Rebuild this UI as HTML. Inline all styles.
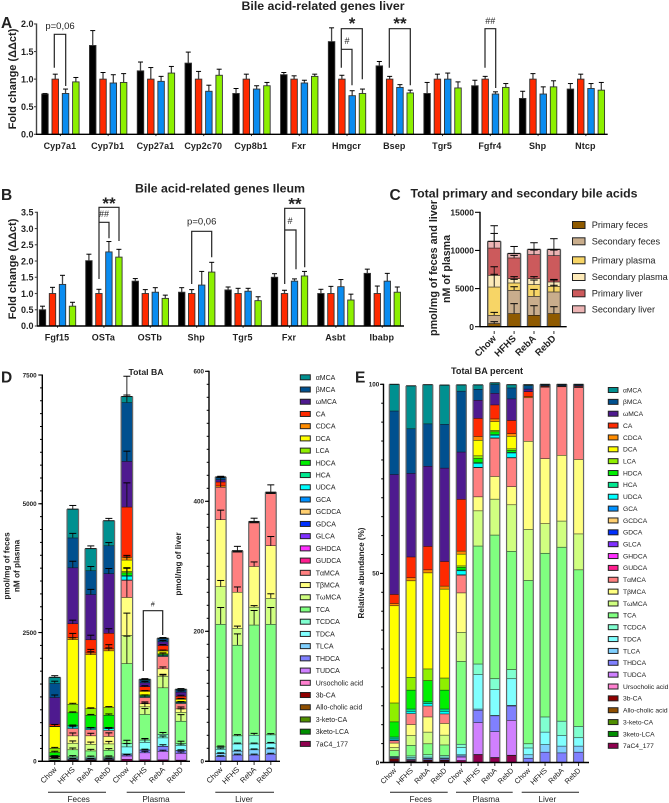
<!DOCTYPE html>
<html lang="en">
<head>
<meta charset="utf-8">
<title>Bile acid figure</title>
<style>
html,body{margin:0;padding:0;background:#fff;}
svg{display:block;font-family:"Liberation Sans",sans-serif;}
text{fill:#222;}
</style>
</head>
<body>
<svg id="figure" xmlns="http://www.w3.org/2000/svg" width="669" height="803" viewBox="0 0 669 803">
  <rect x="0" y="0" width="669" height="803" fill="#fff"/>

  <g id="panel-a">
    <text x="1" y="28" font-size="15.5" font-weight="bold" fill="#333">A</text>
    <text x="323" y="10" font-size="12.4" font-weight="bold" text-anchor="middle" textLength="163" lengthAdjust="spacingAndGlyphs">Bile acid-related genes liver</text>
    <text transform="translate(16,79) rotate(-90)" font-size="11" font-weight="bold" text-anchor="middle">Fold change (ΔΔct)</text>
    <text x="60" y="29" font-size="9.5" text-anchor="middle" fill="#444">p=0,06</text>
    <path d="M54.3 67.7V34.3H65.7V86" fill="none" stroke="#222" stroke-width="1.2"/>
    <path d="M341.3 67.7V28.7H362.3V79.3" fill="none" stroke="#222" stroke-width="1.2"/>
    <path d="M341.3 49.3H352V85.3" fill="none" stroke="#222" stroke-width="1.2"/>
    <path d="M389.3 67.7V28.7H410.3V85.3" fill="none" stroke="#222" stroke-width="1.2"/>
    <path d="M485 67.7V28.7H495.7V88" fill="none" stroke="#222" stroke-width="1.2"/>
    <text x="352" y="29" font-size="17" font-weight="bold" text-anchor="middle" fill="#000">*</text>
    <text x="347" y="44" font-size="9" text-anchor="middle" fill="#444">#</text>
    <text x="400" y="29" font-size="17" font-weight="bold" text-anchor="middle" fill="#000">**</text>
    <text x="490.3" y="24" font-size="9" text-anchor="middle" fill="#444">##</text>
  </g>

  <g id="panel-b">
    <text x="1" y="200" font-size="15.5" font-weight="bold" fill="#333">B</text>
    <text x="220" y="192.5" font-size="12.4" font-weight="bold" text-anchor="middle" textLength="170" lengthAdjust="spacingAndGlyphs">Bile acid-related genes Ileum</text>
    <text transform="translate(16,269) rotate(-90)" font-size="11" font-weight="bold" text-anchor="middle">Fold change (ΔΔct)</text>
    <path d="M99 279V207.3H119V241" fill="none" stroke="#222" stroke-width="1.2"/>
    <path d="M99 222.3H109V238.3" fill="none" stroke="#222" stroke-width="1.2"/>
    <path d="M191.7 284V231.3H211.7V257.3" fill="none" stroke="#222" stroke-width="1.2"/>
    <path d="M284.7 284V208.3H304.7V267.3" fill="none" stroke="#222" stroke-width="1.2"/>
    <path d="M284.7 230H296V269.3" fill="none" stroke="#222" stroke-width="1.2"/>
    <text x="109" y="209" font-size="17" font-weight="bold" text-anchor="middle" fill="#000">**</text>
    <text x="104" y="217" font-size="9" text-anchor="middle" fill="#444">##</text>
    <text x="201.7" y="224.5" font-size="9.5" text-anchor="middle" fill="#444">p=0,06</text>
    <text x="295" y="209.5" font-size="17" font-weight="bold" text-anchor="middle" fill="#000">**</text>
    <text x="290" y="224" font-size="9" text-anchor="middle" fill="#444">#</text>
  </g>

  <g id="panel-c">
    <text x="389.5" y="200" font-size="15.5" font-weight="bold" fill="#333">C</text>
    <text x="524" y="197.5" font-size="12.4" font-weight="bold" text-anchor="middle" textLength="227" lengthAdjust="spacingAndGlyphs">Total primary and secondary bile acids</text>
    <text transform="translate(437,268) rotate(-90)" font-size="11" font-weight="bold" text-anchor="middle" textLength="136" lengthAdjust="spacingAndGlyphs">pmol/mg of feces and liver</text>
    <text transform="translate(450,269) rotate(-90)" font-size="11" font-weight="bold" text-anchor="middle" textLength="68" lengthAdjust="spacingAndGlyphs">nM of plasma</text>
  </g>

  <g id="panel-d">
    <text x="1" y="382.5" font-size="15.5" font-weight="bold" fill="#333">D</text>
    <text x="146" y="375" font-size="8.7" font-weight="bold" text-anchor="middle" fill="#333">Total BA</text>
    <text transform="translate(9.5,566) rotate(-90)" font-size="8.2" font-weight="bold" text-anchor="middle">pmol/mg of feces</text>
    <text transform="translate(19.5,566) rotate(-90)" font-size="8.2" font-weight="bold" text-anchor="middle">nM of plasma</text>
    <text transform="translate(181,564) rotate(-90)" font-size="8.2" font-weight="bold" text-anchor="middle">pmol/mg of liver</text>
    <path d="M143.3 671V610.7H162.7V635" fill="none" stroke="#222" stroke-width="1.2"/>
    <text x="152.7" y="606.5" font-size="7" font-style="italic" text-anchor="middle" fill="#333">#</text>
    <line x1="48" x2="106" y1="792.3" y2="792.3" stroke="#222" stroke-width="1"/>
    <line x1="126.7" x2="185" y1="792.3" y2="792.3" stroke="#222" stroke-width="1"/>
    <line x1="215.3" x2="274" y1="792.3" y2="792.3" stroke="#222" stroke-width="1"/>
    <text x="78.7" y="802" font-size="8.2" text-anchor="middle" fill="#333">Feces</text>
    <text x="156" y="802" font-size="8.2" text-anchor="middle" fill="#333">Plasma</text>
    <text x="244" y="802" font-size="8.2" text-anchor="middle" fill="#333">Liver</text>
  </g>

  <g id="panel-e">
    <text x="355" y="382.5" font-size="15.5" font-weight="bold" fill="#333">E</text>
    <text x="487" y="374" font-size="9" font-weight="bold" text-anchor="middle" fill="#333" textLength="72" lengthAdjust="spacingAndGlyphs">Total BA percent</text>
    <text transform="translate(364,573) rotate(-90)" font-size="8.3" font-weight="bold" text-anchor="middle" fill="#333" textLength="91" lengthAdjust="spacingAndGlyphs">Relative abundance (%)</text>
    <line x1="390" x2="447.7" y1="792.3" y2="792.3" stroke="#222" stroke-width="1"/>
    <line x1="456" x2="512.7" y1="792.3" y2="792.3" stroke="#222" stroke-width="1"/>
    <line x1="521.7" x2="579" y1="792.3" y2="792.3" stroke="#222" stroke-width="1"/>
    <text x="420.7" y="802" font-size="8.2" text-anchor="middle" fill="#333">Feces</text>
    <text x="486" y="802" font-size="8.2" text-anchor="middle" fill="#333">Plasma</text>
    <text x="547.3" y="802" font-size="8.2" text-anchor="middle" fill="#333">Liver</text>
  </g>
</svg>

<script>
/* ---------- Panel A: fold change, liver ---------- */
const aGenes = ['Cyp7a1','Cyp7b1','Cyp27a1','Cyp2c70','Cyp8b1','Fxr','Hmgcr','Bsep','Tgr5','Fgfr4','Shp','Ntcp'];
const aTickLabels = ['0.0','0.5','1.0','1.5','2.0'];
const aChow = [0.73,1.61,1.15,1.29,0.74,1.08,1.68,1.24,0.74,0.88,0.65,0.82];
const aHFHS = [1,1,1,1,1,1,1,1,1,1,1,1];
const aRebA = [0.74,0.93,0.96,0.78,0.82,0.93,0.70,0.85,1.00,0.73,0.73,0.83];
const aRebD = [0.95,0.94,1.11,1.07,0.88,1.05,0.74,0.75,0.84,0.85,0.86,0.80];
const aChowErr = [0.01,0.27,0.16,0.20,0.09,0.04,0.25,0.08,0.20,0.10,0.13,0.10];
const aHFHSErr = [0.09,0.12,0.21,0.14,0.09,0.06,0.07,0.05,0.09,0.05,0.10,0.09];
const aRebAErr = [0.08,0.15,0.09,0.11,0.06,0.05,0.09,0.05,0.11,0.04,0.13,0.09];
const aRebDErr = [0.08,0.16,0.12,0.11,0.06,0.04,0.08,0.05,0.11,0.07,0.11,0.14];

/* ---------- Panel B: fold change, ileum ---------- */
const bGenes = ['Fgf15','OSTa','OSTb','Shp','Tgr5','Fxr','Asbt','Ibabp'];
const bTickLabels = ['0.0','0.5','1.0','1.5','2.0','2.5','3.0','3.5'];
const bChow = [0.50,2.01,1.38,1.04,1.11,1.50,1.00,1.62];
const bHFHS = [1,1,1,1,1,1,1,1];
const bRebA = [1.28,2.28,1.04,1.26,1.07,1.38,1.21,1.38];
const bRebD = [0.61,2.12,0.85,1.66,0.78,1.54,0.80,1.04];
const bChowErr = [0.11,0.20,0.08,0.14,0.09,0.11,0.13,0.13];
const bHFHSErr = [0.19,0.13,0.12,0.12,0.16,0.10,0.22,0.23];
const bRebAErr = [0.28,0.32,0.14,0.42,0.09,0.07,0.22,0.24];
const bRebDErr = [0.12,0.24,0.10,0.30,0.12,0.14,0.18,0.16];

/* ---------- Panel C: totals ---------- */
const cCategories = ['Chow','HFHS','RebA','RebD'];
const cTickLabels = ['0','5000','10000','15000'];
const cLegend = ['Primary feces','Secondary feces','Primary plasma','Secondary plasma','Primary liver','Secondary liver'];
const cPrimaryFeces = [440,1750,1530,1750];
const cSecondaryFeces = [1090,3050,2490,2840];
const cPrimaryPlasma = [3710,970,1530,740];
const cSecondaryPlasma = [1530,570,790,570];
const cPrimaryLiver = [3580,2710,3140,3450];
const cSecondaryLiver = [840,550,660,790];
const cPrimaryFecesErr = [220,1270,1220,870];
const cSecondaryFecesErr = [350,440,870,1530];
const cPrimaryPlasmaErr = [2620,440,570,100];
const cSecondaryPlasmaErr = [100,220,220,300];
const cPrimaryLiverErr = [1880,300,570,700];
const cSecondaryLiverErr = [2050,920,870,1400];

/* ---------- Panels D and E: bile acid species (legend order, top to bottom) ---------- */
const speciesNames = ['αMCA','βMCA','ωMCA','CA','CDCA','DCA','LCA','HDCA','HCA','UDCA','GCA','GCDCA','GDCA','GLCA','GHDCA','GUDCA','TαMCA','TβMCA','TωMCA','TCA','TCDCA','TDCA','TLCA','THDCA','TUDCA','Ursocholic acid','3b-CA','Allo-cholic acid','3-keto-CA','3keto-LCA','7aC4_177'];
const dTickLabels = ['0','2500','5000','7500'];
const liverTickLabels = ['0','200','400','600'];
const eTickLabels = ['0','50','100'];
const dCategories = ['Chow','HFHS','RebA','RebD','Chow','HFHS','RebA','RebD'];
const liverCategories = ['Chow','HFHS','RebA','RebD'];
const eCategories = ['Chow','HFHS','RebA','RebD','Chow','HFHS','RebA','RebD','Chow','HFHS','RebA','RebD'];

const dFecesChow  = [114,274,517,39,10,419,82,65,8,5,3,0,0,0,0,0,10,20,13,24,3,3,0,3,2,0,8,0,2,0,6];
const dFecesHFHS  = [555,580,1086,270,39,1253,167,246,30,30,0,0,0,0,0,0,142,142,128,138,20,20,10,10,0,0,10,0,0,5,15];
const dFecesRebA  = [426,463,877,256,33,1050,128,232,21,25,0,0,0,0,0,0,120,165,128,120,25,12,8,12,0,0,8,0,0,4,17];
const dFecesRebD  = [482,543,1156,304,37,1100,150,234,28,33,0,0,0,0,0,0,117,145,122,131,19,14,9,14,0,0,9,0,0,5,19];
const dPlasmaChow = [113,1142,887,972,57,220,28,50,14,74,7,0,0,0,0,0,333,738,546,1553,64,135,21,21,64,0,0,0,0,0,43];
const dPlasmaHFHS = [18,46,76,76,16,65,11,18,3,17,2,0,0,0,0,0,123,59,148,497,45,145,5,53,134,2,0,0,0,0,33];
const dPlasmaRebA = [10,55,74,88,17,55,10,17,5,17,2,0,0,0,0,0,240,143,226,903,69,162,2,100,162,2,0,0,0,0,31];
const dPlasmaRebD = [11,41,80,49,10,46,6,7,3,17,1,0,0,0,0,0,106,67,172,438,34,98,3,53,129,1,0,0,0,0,27];

const dFecesChowErr  = {0:32,1:39,2:45,5:39,6:13,7:20,16:15,17:15,18:12,19:15};
const dFecesHFHSErr  = {0:71,1:84,2:123,3:65,4:78,5:32,6:13,7:13,9:13,16:65,17:52,18:39,19:30,20:20,23:15};
const dFecesRebAErr  = {0:52,1:78,2:97,3:84,4:65,5:52,6:13,7:13,9:13,16:32,17:45,18:39,19:26,20:15,23:13};
const dFecesRebDErr  = {0:45,1:58,2:97,3:84,4:78,5:52,6:13,7:20,9:13,16:45,17:65,18:45,19:26,20:15,23:13};
const dPlasmaChowErr = {0:394,1:142,2:194,3:466,4:30,5:52,7:84,16:240,17:570,18:430,19:530,20:60,21:60,24:26};
const dPlasmaHFHSErr = {0:13,1:15,2:20,3:15,5:13,16:45,17:32,18:65,19:110,20:26,21:65,23:13,24:26};
const dPlasmaRebAErr = {0:13,1:15,2:20,3:15,5:13,16:65,17:32,18:32,19:246,20:32,21:32,23:26,24:20};
const dPlasmaRebDErr = {0:13,1:15,2:20,3:15,5:13,16:32,17:32,18:65,19:123,20:45,21:26,23:13,24:26};

const lChow = [1,3,3.5,6,2,0,0,0,0,0,0,0,0,0,0,0,50,103,58,188.5,3.5,7,4.5,7.5,0,0,0,0,0,0,0];
const lHFHS = [0.3,0.5,0.4,0.4,0.4,0,0,0,0,0,0,0,0,0,0,0,61.5,55.5,26,139.5,12.5,11,6,10,0,0,0,0,0,0,0];
const lRebA = [0.3,0.5,0.4,0.4,0.4,0,0,0,0,0,0,0,0,0,0,0,67,62.5,27.5,169.5,13.5,9,8,10,0,0,0,0,0,0,0];
const lRebD = [0.3,0.5,0.4,0.4,0.4,0,0,0,0,0,0,0,0,0,0,0,80,81,40,170,13,8.5,8.2,11.3,0,0,0,0,0,0,0];
const lChowErr = {0:1,16:15,17:14.4,18:9.2,19:25.6,20:1,21:1.5,22:1,23:1};
const lHFHSErr = {0:6.7,17:7.7,18:3,19:17,20:1.5,21:1,22:1,23:1};
const lRebAErr = {0:5,17:6.7,18:2,19:22,20:2.5,21:1,22:1,23:1};
const lRebDErr = {0:11.3,17:13.8,18:6.7,19:25.6,20:1.5,21:1,22:1,23:1};

const eFecesChow  = [7,16.8,31.7,2.4,0.6,25.7,5,4,0.5,0.3,0.2,0,0,0,0,0,0.6,1.2,0.8,1.5,0.2,0.2,0,0.2,0.1,0,0.5,0,0.1,0,0.4];
const eFecesHFHS  = [11.3,11.8,22.1,5.5,0.8,25.5,3.4,5,0.6,0.6,0,0,0,0,0,0,2.9,2.9,2.6,2.8,0.4,0.4,0.2,0.2,0,0,0.2,0,0,0.1,0.3];
const eFecesRebA  = [10.3,11.2,21.2,6.2,0.8,25.4,3.1,5.6,0.5,0.6,0,0,0,0,0,0,2.9,4,3.1,2.9,0.6,0.3,0.2,0.3,0,0,0.2,0,0,0.1,0.4];
const eFecesRebD  = [10.3,11.6,24.7,6.5,0.8,23.5,3.2,5,0.6,0.7,0,0,0,0,0,0,2.5,3.1,2.6,2.8,0.4,0.3,0.2,0.3,0,0,0.2,0,0,0.1,0.4];
const ePlasmaChow = [1.6,16.1,12.5,13.7,0.8,3.1,0.4,0.7,0.2,1.05,0.1,0,0,0,0,0,4.7,10.4,7.7,21.9,0.9,1.9,0.3,0.3,0.9,0,0,0,0,0,0.6];
const ePlasmaHFHS = [1.1,2.9,4.8,4.8,1,4.1,0.7,1.1,0.2,1.05,0.1,0,0,0,0,0,7.7,3.7,9.3,31.2,2.8,9.1,0.3,3.3,8.4,0.1,0,0,0,0,2.1];
const ePlasmaRebA = [0.4,2.3,3.1,3.7,0.7,2.3,0.4,0.7,0.2,0.7,0.1,0,0,0,0,0,10.1,6,9.5,38,2.9,6.8,0.1,4.2,6.8,0.1,0,0,0,0,1.3];
const ePlasmaRebD = [0.8,2.9,5.7,3.5,0.7,3.3,0.4,0.5,0.2,1.2,0.1,0,0,0,0,0,7.6,4.8,12.3,31.3,2.4,7,0.2,3.8,9.2,0.1,0,0,0,0,1.9];
const eLiverChow  = [0.2,0.9,0.7,1.3,0.3,0,0,0,0,0,0,0,0,0,0,0,11.5,23.3,13.5,43.2,1.1,1.8,0.9,1.2,0,0,0,0,0,0,0];
const eLiverHFHS  = [0.1,0.2,0.1,0.2,0.1,0,0,0,0,0,0,0,0,0,0,0,18.9,17.2,7.8,43.3,4,3.3,2,2.8,0,0,0,0,0,0,0];
const eLiverRebA  = [0.1,0.2,0.1,0.1,0.1,0,0,0,0,0,0,0,0,0,0,0,18.1,17.4,6.9,46,3.8,2.8,1.8,2.6,0,0,0,0,0,0,0];
const eLiverRebD  = [0.1,0.2,0.2,0.2,0.1,0,0,0,0,0,0,0,0,0,0,0,19,19.7,9.5,41.4,3,2.2,1.6,2.8,0,0,0,0,0,0,0];

/* ---------- Palettes ---------- */
const groupColors = ['#000000','#ff2a00','#0a8cf0','#8cf000'];
const cColors = ['#8f5a00','#c9ad8c','#f7d566','#fdeab8','#cc5a5c','#ecb4b4'];
const speciesColors = ['#009090','#00508f','#4e1a8f','#ff2a00','#ff8c00','#ffff00','#8fef00','#00ef00','#00e88f','#00ffff','#0090ff','#ffcf70','#0030ff','#8030ff','#ff30ff','#ff1f8f','#ff8080','#ffff80','#d0ff80','#80ff80','#80ffd0','#80ffff','#80d0ff','#8080ff','#d080ff','#ff80d0','#8f0000','#8f4f00','#4f8f00','#008f00','#8f004f'];

/* ---------- Helpers ---------- */
const NS = 'http://www.w3.org/2000/svg';
function mk(parent, tag, attrs, text) {
  const el = document.createElementNS(NS, tag);
  for (const k in attrs) el.setAttribute(k, attrs[k]);
  if (text !== undefined) el.textContent = text;
  parent.appendChild(el);
  return el;
}
const panelA = document.getElementById('panel-a');
const panelB = document.getElementById('panel-b');
const panelC = document.getElementById('panel-c');
const panelD = document.getElementById('panel-d');
const panelE = document.getElementById('panel-e');

/* Axis functions */
const yA = v => 134.3 - v * 55.17;
const yB = v => 326 - v * 32.49;
const yC = v => 326.7 - v * 114.4 / 15000;
const yD = v => 761.3 - v * 386.3 / 7500;
const yL = v => 761.3 - v * 0.65;
const yE = v => 762.5 - v * 3.782;
const xGroupA = i => 41.7 + i * 47.77;
const xGroupB = i => 39.3 + i * 46.4;
const xC = i => 487.7 + i * 19.9;
const xD = i => 49 + i * 18.03;
const xL = i => 215.3 + i * 16.7;
const xE = i => 389.3 + i * 16.75;

function yAxis(parent, x, yTop, yBottom, ticks, yFn, minorStep, minorMax, fontSize, labelRight, majorLen, color) {
  const axis = mk(parent, 'line', {x1: x, x2: x, y1: yTop - 0.5, y2: yBottom + 0.5, stroke: color, 'stroke-width': 1.4});
  
  
  ticks.forEach(t => {
    const v = parseFloat(t);
    const tick = mk(parent, 'line', {x1: x - majorLen, x2: x, y1: yFn(v), y2: yFn(v), stroke: color, 'stroke-width': 1.1});
    
    
    const label = mk(parent, 'text', {x: labelRight, y: yFn(v) + fontSize * 0.36, 'font-size': fontSize, 'font-weight': 'bold', 'text-anchor': 'end'}, t);
    
    
  });
  if (minorStep) {
    for (let v = 0; v <= minorMax + 1e-6; v += minorStep) {
      const minor = mk(parent, 'line', {x1: x - 2.3, x2: x, y1: yFn(v), y2: yFn(v), stroke: color, 'stroke-width': 1});
      
      
    }
  }
}

function xAxis(parent, x1, x2, y) {
  const axis = mk(parent, 'line', {x1: x1, x2: x2, y1: y, y2: y, stroke: '#000', 'stroke-width': 1.4});
  
  
}

function errorBar(parent, cx, yBase, yTop, capW, stroke, width) {
  const stem = mk(parent, 'line', {x1: cx, x2: cx, y1: yBase, y2: yTop, stroke: stroke, 'stroke-width': width});
  
  
  const cap = mk(parent, 'line', {x1: cx - capW / 2, x2: cx + capW / 2, y1: yTop, y2: yTop, stroke: '#000', 'stroke-width': 1});
  
  
}

function drawGrouped(parent, genes, seriesVals, seriesErrs, yFn, xGroup, barPitch, barW, baseY) {
  genes.forEach((gene, i) => {
    seriesVals.forEach((vals, s) => {
      const x = xGroup(i) + s * barPitch;
      const top = yFn(vals[i]);
      errorBar(parent, x + barW / 2, top, yFn(vals[i] + seriesErrs[s][i]), 5, '#444', 1.3);
      const bar = mk(parent, 'rect', {x: x, y: top, width: barW, height: baseY - top, fill: groupColors[s], stroke: '#333', 'stroke-width': 0.9});
      
      
    });
    const cx = xGroup(i) + 1.5 * barPitch + barW / 2;
    const tick = mk(parent, 'line', {x1: cx, x2: cx, y1: baseY, y2: baseY + 1.8, stroke: '#333', 'stroke-width': 1});
    
    
    const label = mk(parent, 'text', {x: cx - 0.5, y: baseY + 14.5, 'font-size': 9, 'font-weight': 'bold', 'text-anchor': 'middle', 'letter-spacing': 0.1}, gene);
    
    
  });
}

/* layers: bottom-to-top list of {v, err, color} */
function drawStack(parent, layers, x, w, yFn, capW, lineW, sideColor) {
  let cum = 0;
  const tops = [];
  layers.forEach(layer => {
    if (!layer.v) return;
    const y0 = yFn(cum);
    const y1 = yFn(cum + layer.v);
    const seg = mk(parent, 'rect', {x: x, y: y1, width: w, height: y0 - y1, fill: layer.color});
    
    
    const divider = mk(parent, 'line', {x1: x, x2: x + w, y1: y1, y2: y1, stroke: '#111', 'stroke-width': lineW});
    
    
    cum += layer.v;
    tops.push({top: cum, err: layer.err});
  });
  const left = mk(parent, 'line', {x1: x, x2: x, y1: yFn(cum), y2: yFn(0), stroke: sideColor, 'stroke-width': lineW + 0.2});
  
  
  const right = mk(parent, 'line', {x1: x + w, x2: x + w, y1: yFn(cum), y2: yFn(0), stroke: sideColor, 'stroke-width': lineW + 0.2});
  
  
  tops.forEach(t => {
    if (t.err) errorBar(parent, x + w / 2, yFn(t.top), yFn(t.top + t.err), capW, '#111', 0.9);
  });
}

function speciesLayers(values, errs) {
  const out = [];
  for (let i = values.length - 1; i >= 0; i--) {
    out.push({v: values[i], err: errs ? (errs[i] || 0) : 0, color: speciesColors[i]});
  }
  return out;
}

function rotatedLabels(parent, cats, xFn, w, y, size, weight, fill) {
  cats.forEach((c, i) => {
    const cx = xFn(i) + w / 2;
    const tick = mk(parent, 'line', {x1: cx, x2: cx, y1: y - 8, y2: y - 5, stroke: '#333', 'stroke-width': 1});
    
    
    const lx = cx + 2.5;
    const label = mk(parent, 'text', {x: lx, y: y, 'font-size': size, 'font-weight': weight, 'text-anchor': 'end', fill: fill, transform: 'rotate(-45 ' + lx + ' ' + y + ')'}, c);
    
    
  });
}

function legend(parent, names, colors, swX, swW, swH, yFn, textX, fontSize) {
  names.forEach((n, i) => {
    const y = yFn(i);
    const sw = mk(parent, 'rect', {x: swX, y: y - swH / 2, width: swW, height: swH, fill: colors[i], stroke: '#222', 'stroke-width': 1});
    
    
    const t = mk(parent, 'text', {x: textX, y: y + fontSize * 0.35, 'font-size': fontSize, fill: '#444'}, n);
    
    
  });
}

/* ---------- Draw A ---------- */
yAxis(panelA, 36.5, yA(2), yA(0), aTickLabels, yA, 0, 0, 9, 33.5, 2.5, '#444');
drawGrouped(panelA, aGenes, [aChow,aHFHS,aRebA,aRebD], [aChowErr,aHFHSErr,aRebAErr,aRebDErr], yA, xGroupA, 10.3, 6.5, yA(0));
xAxis(panelA, 36, 607.7, yA(0));

/* ---------- Draw B ---------- */
yAxis(panelB, 37.3, yB(3.5), yB(0), bTickLabels, yB, 0, 0, 9, 33.5, 2.5, '#444');
drawGrouped(panelB, bGenes, [bChow,bHFHS,bRebA,bRebD], [bChowErr,bHFHSErr,bRebAErr,bRebDErr], yB, xGroupB, 10, 6.4, yB(0));
xAxis(panelB, 37, 404, yB(0));

/* ---------- Draw C ---------- */
yAxis(panelC, 480, yC(15000), yC(0), cTickLabels, yC, 0, 0, 8.5, 474, 5, '#000');
cCategories.forEach((c, i) => {
  drawStack(panelC, [
    {v: cPrimaryFeces[i], err: cPrimaryFecesErr[i], color: cColors[0]},
    {v: cSecondaryFeces[i], err: cSecondaryFecesErr[i], color: cColors[1]},
    {v: cPrimaryPlasma[i], err: cPrimaryPlasmaErr[i], color: cColors[2]},
    {v: cSecondaryPlasma[i], err: cSecondaryPlasmaErr[i], color: cColors[3]},
    {v: cPrimaryLiver[i], err: cPrimaryLiverErr[i], color: cColors[4]},
    {v: cSecondaryLiver[i], err: cSecondaryLiverErr[i], color: cColors[5]}
  ], xC(i), 13, yC, 7.5, 1.2, '#555');
});
xAxis(panelC, 480, 566.7, yC(0));
rotatedLabels(panelC, cCategories, xC, 13, 339, 9.5, 'bold', '#222');
const cLegendSlots = [225, 241.3, 260.3, 277, 293.3, 309.3];
legend(panelC, cLegend, cColors, 572.5, 12.5, 7, i => cLegendSlots[i], 591.7, 9.2);

/* ---------- Draw D: feces + plasma ---------- */
yAxis(panelD, 42.3, yD(7500), yD(0), dTickLabels, yD, 250, 7500, 6.3, 36.7, 4, '#000');
[dFecesChow,dFecesHFHS,dFecesRebA,dFecesRebD,dPlasmaChow,dPlasmaHFHS,dPlasmaRebA,dPlasmaRebD].forEach((vals, i) => {
  const errs = [dFecesChowErr,dFecesHFHSErr,dFecesRebAErr,dFecesRebDErr,dPlasmaChowErr,dPlasmaHFHSErr,dPlasmaRebAErr,dPlasmaRebDErr][i];
  drawStack(panelD, speciesLayers(vals, errs), xD(i), 11.5, yD, 7, 1, '#666');
});
xAxis(panelD, 38, 190, yD(0));
rotatedLabels(panelD, dCategories, xD, 11.5, 770, 7.6, 'normal', '#333');

/* ---------- Draw D: liver ---------- */
yAxis(panelD, 209, yL(600), yL(0), liverTickLabels, yL, 20, 600, 6.3, 204, 4, '#000');
[lChow,lHFHS,lRebA,lRebD].forEach((vals, i) => {
  const errs = [lChowErr,lHFHSErr,lRebAErr,lRebDErr][i];
  drawStack(panelD, speciesLayers(vals, errs), xL(i), 10.8, yL, 7, 1, '#666');
});
xAxis(panelD, 205, 280, yL(0));
rotatedLabels(panelD, liverCategories, xL, 10.8, 770, 7.6, 'normal', '#333');
legend(panelD, speciesNames, speciesColors, 300.3, 10, 5, i => 377.3 + i * 12.22, 315.7, 7);

/* ---------- Draw E ---------- */
yAxis(panelE, 383.5, yE(100), yE(0), eTickLabels, yE, 5, 100, 6.3, 379.3, 3.5, '#000');
[eFecesChow,eFecesHFHS,eFecesRebA,eFecesRebD,ePlasmaChow,ePlasmaHFHS,ePlasmaRebA,ePlasmaRebD,eLiverChow,eLiverHFHS,eLiverRebA,eLiverRebD].forEach((vals, i) => {
  drawStack(panelE, speciesLayers(vals, null), xE(i), 10, yE, 7, 1, '#666');
});
xAxis(panelE, 380, 589, yE(0));
rotatedLabels(panelE, eCategories, xE, 10, 771, 7.4, 'normal', '#333');
legend(panelE, speciesNames, speciesColors, 608.3, 9.7, 5, i => 390 + i * 11.86, 623, 6.7);
</script>
</body>
</html>
